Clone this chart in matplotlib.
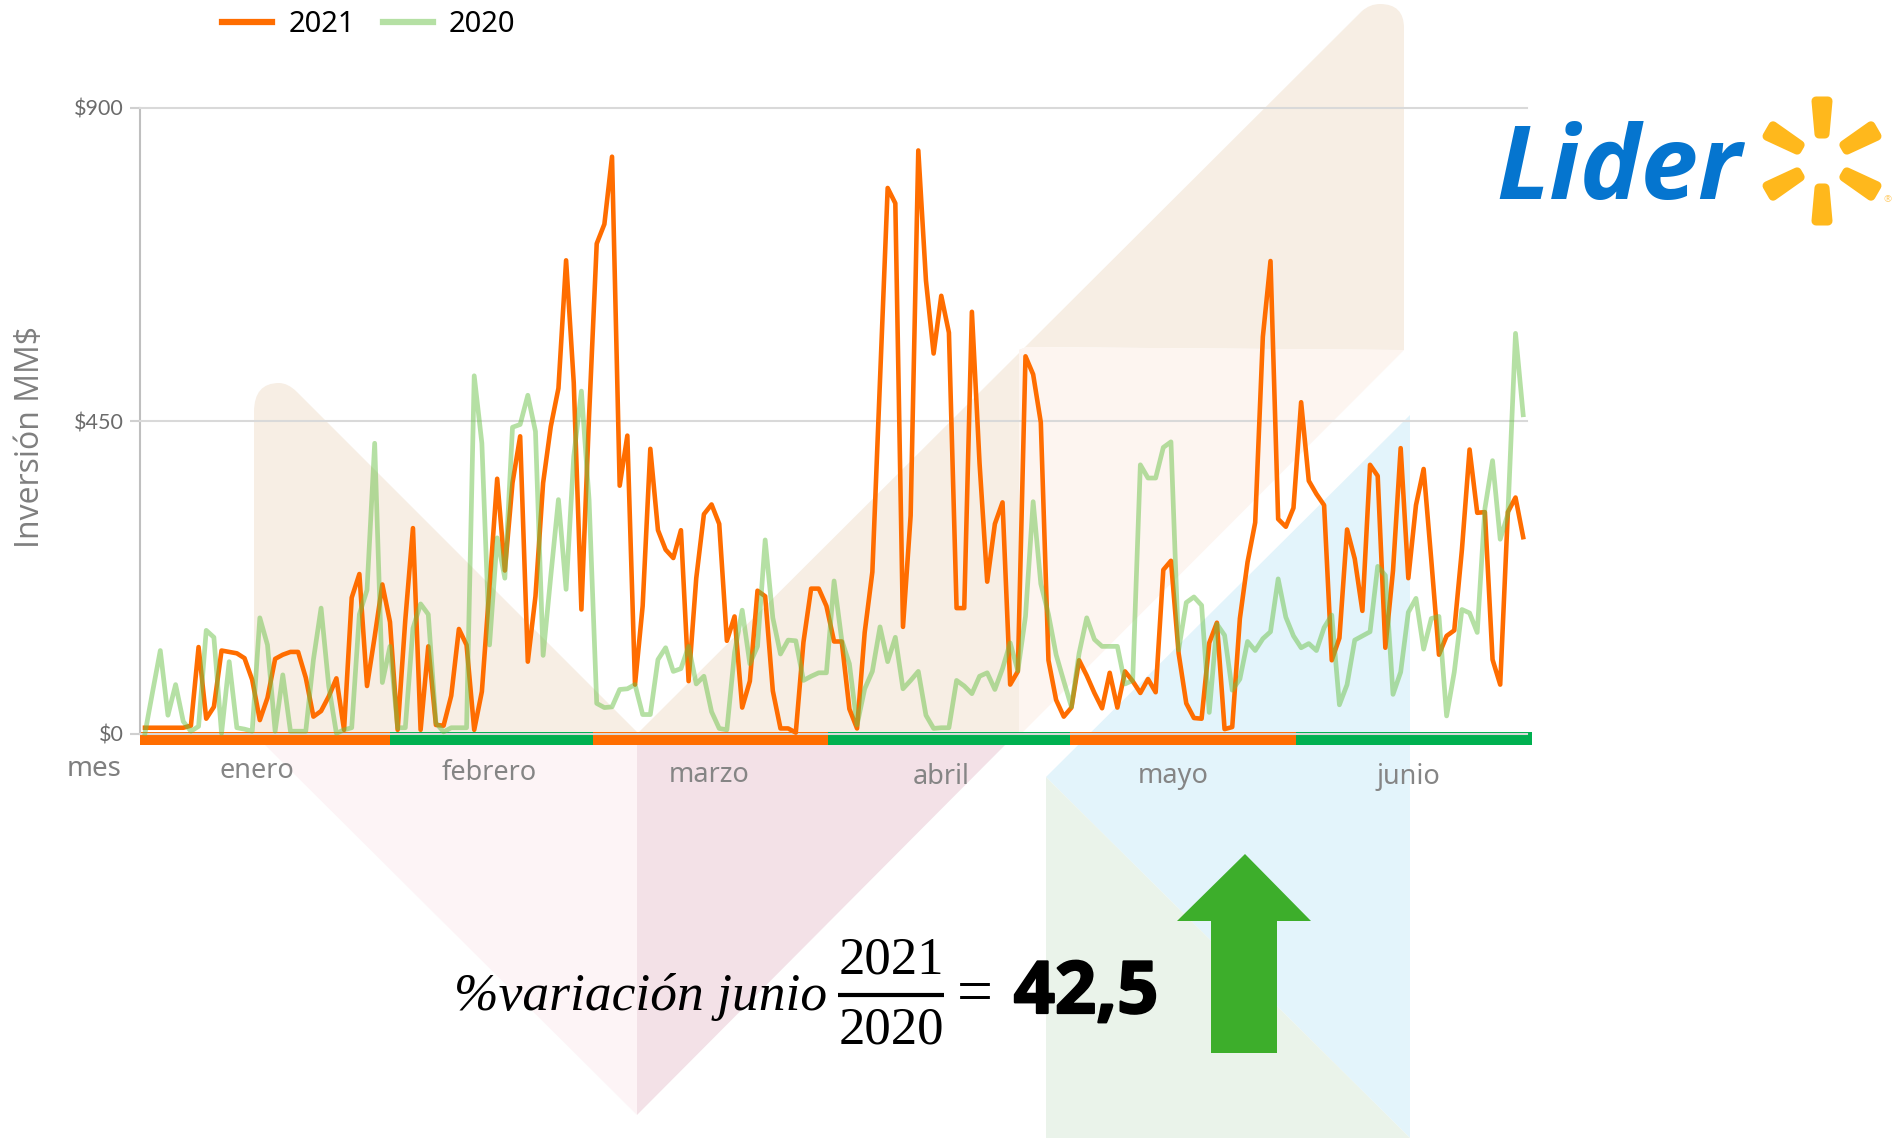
import numpy as np
import matplotlib
matplotlib.use("Agg")
import matplotlib.pyplot as plt
import matplotlib.patheffects as pe
from matplotlib.patches import Polygon, PathPatch
from matplotlib.path import Path

W, H = 1895, 1138

# daily values, 1 ene - 30 jun (MM$)
inv_2021 = [9, 9, 9, 9, 9, 9, 12, 125, 22, 39, 120, 118, 116, 109, 78, 20, 52, 108, 114, 118,
            118, 81, 25, 33, 54, 80, 6, 196, 230, 69, 140, 215, 161, 6, 164, 296, 6, 126, 13, 12,
            55, 151, 128, 6, 61, 212, 367, 235, 361, 428, 104, 198, 361, 442, 497, 681, 505, 179, 457, 705,
            733, 830, 357, 429, 71, 184, 410, 293, 265, 253, 293, 76, 224, 316, 330, 302, 134, 169, 38, 76,
            206, 198, 62, 8, 8, 2, 132, 209, 209, 184, 133, 133, 36, 8, 146, 233, 511, 785, 763, 154,
            314, 839, 652, 547, 630, 577, 181, 181, 607, 389, 219, 302, 333, 71, 90, 543, 517, 448, 106, 49,
            25, 38, 106, 84, 59, 37, 88, 38, 90, 76, 59, 79, 60, 236, 249, 116, 44, 23, 22, 131,
            160, 7, 10, 166, 247, 304, 571, 680, 309, 298, 325, 477, 364, 345, 329, 106, 138, 294, 252, 177,
            387, 371, 124, 235, 411, 224, 329, 381, 250, 114, 141, 149, 265, 409, 318, 319, 107, 71, 319, 340,
            283]
inv_2020 = [1, 61, 120, 27, 71, 18, 4, 11, 149, 139, 1, 104, 9, 7, 4, 167, 128, 4, 85, 4,
            4, 4, 107, 181, 69, 1, 6, 9, 172, 207, 418, 74, 126, 9, 9, 152, 187, 172, 16, 3,
            9, 9, 9, 515, 418, 128, 282, 224, 441, 445, 487, 435, 113, 227, 337, 208, 399, 493, 337, 44,
            38, 39, 64, 65, 71, 28, 28, 107, 124, 90, 94, 126, 72, 83, 32, 8, 6, 117, 178, 101,
            126, 279, 167, 115, 135, 134, 77, 83, 88, 88, 220, 135, 101, 13, 65, 90, 154, 104, 139, 65,
            77, 90, 27, 8, 9, 9, 77, 69, 58, 83, 88, 64, 94, 131, 91, 169, 334, 216, 172, 114,
            76, 39, 116, 167, 136, 126, 126, 126, 72, 77, 387, 368, 368, 412, 420, 121, 189, 197, 185, 31,
            158, 142, 63, 79, 133, 120, 137, 147, 223, 168, 141, 124, 130, 120, 153, 171, 42, 71, 135, 141,
            147, 241, 228, 57, 89, 175, 195, 122, 166, 169, 26, 89, 179, 174, 146, 324, 393, 280, 316, 576,
            459]
dias = np.arange(len(inv_2021))

meses = ["enero", "febrero", "marzo", "abril", "mayo", "junio"]
mes_inicio = [-0.65, 32, 58.5, 89.2, 120.8, 150.3]
mes_fin = [32, 58.5, 89.2, 120.8, 150.3, 181.1]
yticks = [0, 450, 900]
ytick_labels = ["$0", "$450", "$900"]

NARANJA = "#ff6d00"
VERDE = "#00b050"
BEIGE = "#f7eee4"

fig = plt.figure(figsize=(W / 100, H / 100), dpi=100, facecolor="white")

# fondo en pixeles de la imagen
bg = fig.add_axes([0, 0, 1, 1], zorder=0)
bg.set_xlim(0, W)
bg.set_ylim(H, 0)
bg.axis("off")

# chevron izquierdo
path = Path([(254, 412), (254, 383), (279, 383), (288, 383), (297, 392), (643, 738), (254, 738), (254, 412)],
            [Path.MOVETO, Path.CURVE3, Path.CURVE3, Path.CURVE3, Path.CURVE3, Path.LINETO, Path.LINETO, Path.CLOSEPOLY])
bg.add_patch(PathPatch(path, fc=BEIGE, ec="none"))
bg.add_patch(Polygon([(254, 734), (637, 734), (637, 1115)], fc="#fdf4f6", ec="none"))
bg.add_patch(Polygon([(637, 734), (1016, 734), (637, 1115)], fc="#f3e1e7", ec="none"))

# chevron derecho
path = Path([(637, 734), (1362, 11), (1370, 4), (1380, 4), (1404, 4), (1404, 28), (1404, 350), (1027, 347),
             (1019, 350), (1019, 734), (637, 734)],
            [Path.MOVETO, Path.LINETO, Path.CURVE3, Path.CURVE3, Path.CURVE3, Path.CURVE3, Path.LINETO, Path.LINETO,
             Path.LINETO, Path.LINETO, Path.CLOSEPOLY])
bg.add_patch(PathPatch(path, fc=BEIGE, ec="none"))
bg.add_patch(Polygon([(1027, 347), (1404, 350), (1021, 734), (1019, 734), (1019, 350)], fc="#fdf5f0", ec="none"))

# chevron azul / verde
bg.add_patch(Polygon([(1410, 415), (1046, 777), (1410, 1138)], fc="#e3f4fb", ec="none"))
bg.add_patch(Polygon([(1046, 777), (1046, 1138), (1410, 1138)], fc="#eaf3ea", ec="none"))

# grafico
ax = fig.add_axes([140 / W, 1 - 734 / H, (1527 - 140) / W, (734 - 108) / H], zorder=1)
ax.patch.set_alpha(0)
ax.set_xlim(-0.65, 180.5)
ax.set_ylim(0, 900)

ax.broken_barh([(a, b - a) for a, b in zip(mes_inicio, mes_fin)], (-16, 19),
               facecolors=[NARANJA, VERDE, NARANJA, VERDE, NARANJA, VERDE], clip_on=False, zorder=2)

for y in yticks:
    ax.axhline(y, color="#d9d9d9", lw=1.5, zorder=3, clip_on=False)

l21, = ax.plot(dias, inv_2021, color=NARANJA, lw=3.3, label="2021", zorder=4, clip_on=False,
               solid_joinstyle="round")
l20, = ax.plot(dias, inv_2020, color="#6cc24a", alpha=0.5, lw=3.4, label="2020", zorder=5, clip_on=False,
               solid_joinstyle="round")

for s in ["top", "right", "bottom"]:
    ax.spines[s].set_visible(False)
ax.spines["left"].set_color("#bfbfbf")
ax.spines["left"].set_linewidth(1.5)
ax.set_xticks([])
ax.set_yticks(yticks)
ax.set_yticklabels(ytick_labels, family="Lato", fontsize=15.5, color="#6b6b6b")
ax.tick_params(axis="y", length=7, width=1.5, color="#d0d0d0", pad=5)

leg = ax.legend(handles=[l21, l20], ncol=2, frameon=False, prop={"family": "Noto Sans", "size": 21},
                loc="center left", bbox_to_anchor=(222 / W, 1 - 25 / H), bbox_transform=fig.transFigure,
                borderpad=0, borderaxespad=0, handlelength=1.72, handletextpad=0.55, columnspacing=0.95)
for h in leg.get_lines():
    h.set_linewidth(4.5)

# textos
bg.text(31, 437, "Inversión MM$", rotation=90, family="Open Sans", fontsize=23, color="#7f7f7f",
        ha="center", va="center")
bg.text(94, 769, "mes", family="Noto Sans", fontsize=20, color="#7f7f7f", ha="center", va="center")
mes_x = [257, 489, 709, 941, 1173, 1408]
mes_y = [771, 773, 775, 777, 776, 777]
for m, mx, my in zip(meses, mes_x, mes_y):
    bg.text(mx, my, m, family="Noto Sans", fontsize=19.5, color="#858585", ha="center", va="center")

# formula
bg.text(454, 997, "%variación junio", family="Liberation Serif", style="italic", fontsize=38.5, color="black",
        ha="left", va="center")
bg.text(891, 960, "2021", family="Liberation Serif", fontsize=38, color="black", ha="center", va="center")
bg.text(891, 1030, "2020", family="Liberation Serif", fontsize=38, color="black", ha="center", va="center")
bg.plot([838, 944], [995, 995], color="black", lw=3, solid_capstyle="butt")
bg.text(975, 997, "=", family="Liberation Serif", fontsize=46, color="black", ha="center", va="center")
bg.text(1086, 994, "42,5", family="Open Sans", weight="bold", fontsize=52, color="black", ha="center", va="center",
        path_effects=[pe.withStroke(linewidth=1.6, foreground="black")])

# flecha
bg.add_patch(Polygon([(1245, 854), (1311, 921), (1277, 921), (1277, 1053), (1211, 1053), (1211, 921), (1177, 921)],
                     fc="#3dae2b", ec="none", zorder=5))

# logo
bg.text(1619, 172, "Lider", family="Open Sans", weight="bold", style="italic", fontsize=74, color="#0575cf",
        ha="center", va="center")
cx, cy = 1822, 161
for ang in [90, 30, -30, -90, -150, 150]:
    a = np.deg2rad(ang)
    d = np.array([np.cos(a), -np.sin(a)])
    n = np.array([-d[1], d[0]])
    c = np.array([cx, cy])
    pts = [c + d * 27 + n * 3, c + d * 60 + n * 6, c + d * 60 - n * 6, c + d * 27 - n * 3]
    bg.add_patch(Polygon(pts, fc="#ffb81c", ec="#ffb81c", lw=6.5, joinstyle="round"))
bg.text(1888, 200, "®", family="Noto Sans", fontsize=7, color="#ffcf70", ha="center", va="center")

fig.savefig("out.png", dpi=100)
